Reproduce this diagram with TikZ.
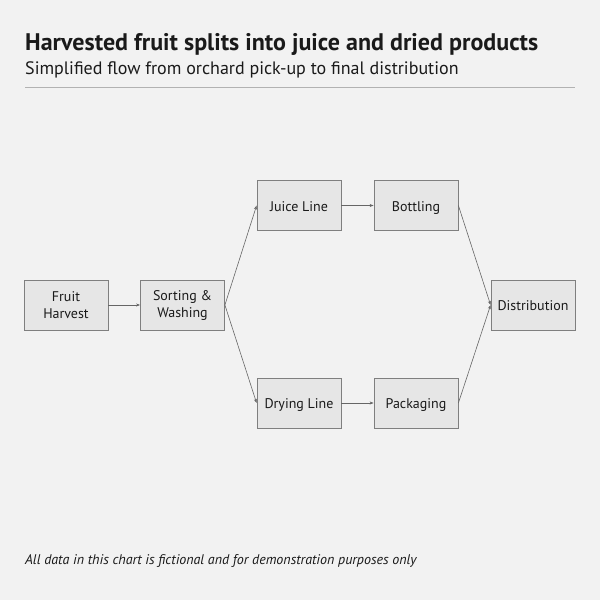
\documentclass[tikz,border=0pt]{standalone}
\usepackage{fontspec}
\setmainfont{PT Sans}
\usetikzlibrary{arrows.meta}
\definecolor{bg}{HTML}{F2F2F2}
\definecolor{boxfill}{HTML}{E6E6E6}
\definecolor{boxline}{HTML}{7F7F7F}
\definecolor{txt}{HTML}{1A1A1A}
\tikzset{
  stepbox/.style={draw=boxline, fill=boxfill, line width=0.8pt, minimum width=84pt, minimum height=50pt, inner sep=0pt, align=center, font=\fontsize{14}{17}\selectfont, text=txt},
  oneline/.style={text height=12pt, text depth=1pt},
  flow/.style={draw=black!60, line width=0.6pt, -{Stealth[length=4pt,width=3pt]}}
}
\begin{document}
\begin{tikzpicture}[x=1pt,y=-1pt]
\useasboundingbox[fill=bg] (0,0) rectangle (600,600);
\node[anchor=base west, text=txt, font=\fontsize{24}{28}\selectfont\bfseries, inner sep=0pt] (title) at (25,50) {Harvested fruit splits into juice and dried products};
\node[anchor=base west, text=txt, font=\fontsize{18}{21}\selectfont, inner sep=0pt] (sub) at (25,74) {Simplified flow from orchard pick-up to final distribution};
\coordinate (r1) at (25,87);
\coordinate (r2) at (575,87);
\draw[black!30, line width=0.8pt] (r1) -- (r2);
\node[stepbox] (harvest) at (66,305) {Fruit\\Harvest};
\node[stepbox] (sort) at (182.5,305) {Sorting \&\\Washing};
\node[stepbox, oneline] (juice) at (299,205.5) {Juice Line};
\node[stepbox, oneline] (bottle) at (416,205.5) {Bottling};
\node[stepbox, oneline] (dry) at (299,403) {Drying Line};
\node[stepbox, oneline] (pack) at (416,403) {Packaging};
\node[stepbox, oneline] (dist) at (533,305) {Distribution};
\draw[flow] (harvest.east) -- (sort.west);
\draw[flow] (sort.east) -- (juice.west);
\draw[flow] (sort.east) -- (dry.west);
\draw[flow] (juice.east) -- (bottle.west);
\draw[flow] (dry.east) -- (pack.west);
\draw[flow] (bottle.east) -- (dist.west);
\draw[flow] (pack.east) -- (dist.west);
\node[anchor=base west, text=txt, font=\fontsize{14}{17}\selectfont\itshape, inner sep=0pt] (foot) at (25,564) {All data in this chart is fictional and for demonstration purposes only};
\end{tikzpicture}
\end{document}
